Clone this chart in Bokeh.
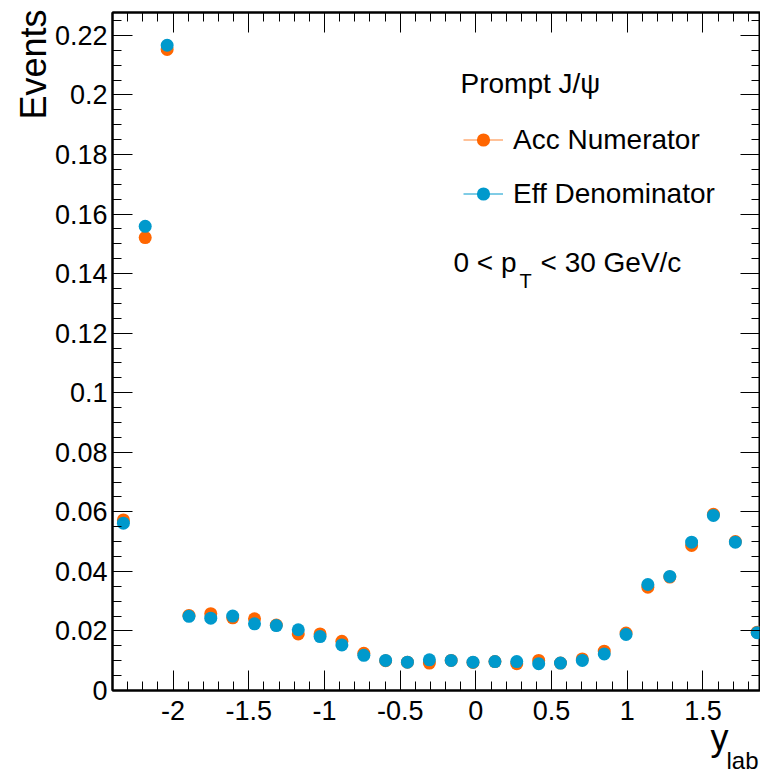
import math
from bokeh.plotting import figure
from bokeh.models import (Range1d, LinearAxis, SingleIntervalTicker, CustomJSTickFormatter,
                          Label, Legend, LegendItem, ColumnDataSource, Title)
from bokeh.embed import file_html
from bokeh.resources import INLINE

# ---------------- data ----------------
y_lab = [-2.328, -2.184, -2.039, -1.895, -1.751, -1.606, -1.462, -1.318, -1.173, -1.029,
         -0.885, -0.740, -0.596, -0.452, -0.307, -0.163, -0.019, 0.126, 0.270, 0.415,
         0.559, 0.703, 0.848, 0.992, 1.136, 1.281, 1.425, 1.569, 1.714, 1.858]
acc_numerator = [0.0573, 0.1521, 0.2153, 0.0252, 0.0258, 0.0244, 0.0241, 0.0220, 0.0190, 0.0190,
                 0.0165, 0.0125, 0.0100, 0.0095, 0.0092, 0.0101, 0.0094, 0.0097, 0.0090, 0.0101,
                 0.0092, 0.0106, 0.0132, 0.0193, 0.0347, 0.0381, 0.0487, 0.0592, 0.0500, 0.0196]
eff_denominator = [0.0562, 0.1559, 0.2167, 0.0249, 0.0243, 0.0250, 0.0224, 0.0218, 0.0204, 0.0181,
                   0.0153, 0.0118, 0.0101, 0.0095, 0.0103, 0.0101, 0.0095, 0.0097, 0.0097, 0.0090,
                   0.0092, 0.0101, 0.0123, 0.0188, 0.0356, 0.0383, 0.0498, 0.0588, 0.0498, 0.0194]
series_names = ["Acc Numerator", "Eff Denominator"]
header_text = "Prompt J/\u03c8"
y_title = "Events"
x_title = "y"
x_title_sub = "lab"

ORANGE = "#ff6600"
BLUE = "#0099cc"
FONT = "Liberation Sans"
NAN = float("nan")

p = figure(width=760, height=774, output_backend="svg", toolbar_location=None,
           x_range=Range1d(-2.4, 1.88), y_range=Range1d(0, 0.2277),
           min_border_left=112, min_border_right=0, min_border_top=12, min_border_bottom=84,
           x_axis_type=None, y_axis_type=None)
p.xgrid.visible = False
p.ygrid.visible = False
p.outline_line_color = "black"
p.outline_line_width = 2
p.background_fill_color = "white"
p.border_fill_color = "white"

fmt = CustomJSTickFormatter(code="return Number(tick.toFixed(4)).toString();")
blank = CustomJSTickFormatter(code="return '';")


def style_axis(ax, labels=True, standoff=5):
    ax.major_tick_in = 20
    ax.major_tick_out = 0
    ax.minor_tick_in = 9
    ax.minor_tick_out = 0
    ax.major_tick_line_color = "black"
    ax.minor_tick_line_color = "black"
    ax.major_tick_line_width = 1
    ax.minor_tick_line_width = 1
    ax.axis_line_color = "black"
    ax.axis_line_width = 2
    if labels:
        ax.formatter = fmt
        ax.major_label_text_font = FONT
        ax.major_label_text_font_size = "27px"
        ax.major_label_text_color = "black"
        ax.major_label_standoff = standoff
    else:
        ax.formatter = blank
        ax.major_label_text_font_size = "0px"
        ax.major_label_standoff = 0


def title(text, size, **kw):
    return Title(text=text, text_font=FONT, text_font_size=size, text_font_style="normal",
                 text_color="black", **kw)


xb = LinearAxis(ticker=SingleIntervalTicker(interval=0.5, num_minor_ticks=5))
style_axis(xb, standoff=10)
p.add_layout(xb, "below")
p.add_layout(title(x_title, "36px", align="right", vertical_align="top",
                   standoff=-12, offset=32), "below")
p.add_layout(title(x_title_sub, "24px", align="right", vertical_align="top",
                   standoff=-14, offset=2), "below")

xt = LinearAxis(ticker=SingleIntervalTicker(interval=0.5, num_minor_ticks=5))
style_axis(xt, labels=False)
p.add_layout(xt, "above")

yl = LinearAxis(ticker=SingleIntervalTicker(interval=0.02, num_minor_ticks=4))
style_axis(yl)
p.add_layout(yl, "left")
p.add_layout(title(y_title, "36px", align="right", vertical_align="bottom",
                   standoff=-4, offset=-3), "left")

yr = LinearAxis(ticker=SingleIntervalTicker(interval=0.02, num_minor_ticks=4))
style_axis(yr, labels=False)
p.add_layout(yr, "right")

src = ColumnDataSource(dict(x=y_lab, acc=acc_numerator, eff=eff_denominator))
r_acc = p.scatter("x", "acc", source=src, size=13, color=ORANGE, line_color=None)
r_eff = p.scatter("x", "eff", source=src, size=13, color=BLUE, line_color=None)

# line glyphs used only for the legend keys (nothing drawn in the frame)
l_acc = p.line(x=[NAN], y=[NAN], line_color=ORANGE, line_width=1, line_alpha=0.8)
l_eff = p.line(x=[NAN], y=[NAN], line_color=BLUE, line_width=1)

legend = Legend(items=[LegendItem(label=series_names[0], renderers=[l_acc, r_acc]),
                       LegendItem(label=series_names[1], renderers=[l_eff, r_eff])],
                location=(351, 480), orientation="vertical",
                glyph_width=40, glyph_height=33, label_height=33, label_standoff=10,
                spacing=21, padding=0, margin=0,
                border_line_color=None, background_fill_alpha=0,
                label_text_font=FONT, label_text_font_size="28px", label_text_color="black")
p.add_layout(legend, "center")


# frame-relative screen coordinates (x from frame left, y up from frame bottom)
def lab(text, sx, sy, size):
    p.add_layout(Label(x=sx, y=sy, x_units="screen", y_units="screen", text=text,
                       text_font=FONT, text_font_size=size, text_color="black",
                       text_baseline="middle"))


lab(header_text, 348, 607, "28px")
lab("0 < p", 341, 428, "28px")
lab("T", 407, 410, "20px")
lab("< 30 GeV/c", 428, 428, "28px")

html = file_html(p, INLINE)
open("out.html", "w").write(html)
